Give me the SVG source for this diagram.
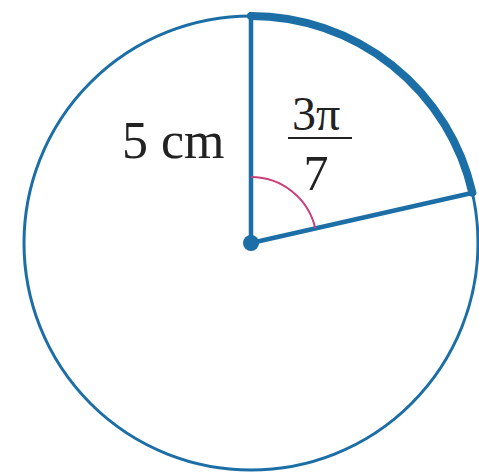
<svg xmlns="http://www.w3.org/2000/svg" width="479" height="476" viewBox="0 0 479 476">
<style>
.blue{stroke:#1b6ea6;fill:none;stroke-linecap:round}
.txt{font-family:"Liberation Serif",serif;fill:#222;}
</style>
<rect width="479" height="476" fill="#fff"/>
<g id="circle">
<circle class="blue" cx="251" cy="243" r="227" stroke-width="3"/>
<path class="blue" d="M251 16 A227 227 0 0 1 472.3 192.5" stroke-width="8" stroke-linecap="butt"/>
</g>
<g id="connectors">
<line class="blue" x1="251" y1="243" x2="251" y2="14" stroke-width="4.5" stroke-linecap="butt"/>
<line class="blue" x1="251" y1="243" x2="474" y2="192.5" stroke-width="4.5" stroke-linecap="butt"/>
<path d="M251 177 A66 66 0 0 1 315.3 228.3" fill="none" stroke="#c8407a" stroke-width="2"/>
</g>
<g id="center"><circle cx="251" cy="243" r="8" fill="#1b6ea6"/></g>
<g id="label-radius"><text class="txt" x="122" y="158" font-size="52">5 cm</text></g>
<g id="label-angle">
<text class="txt" x="316" y="130" font-size="48" text-anchor="middle">3π</text>
<line x1="288" y1="138" x2="352" y2="138" stroke="#222" stroke-width="2"/>
<text class="txt" x="316" y="190" font-size="50" text-anchor="middle">7</text>
</g>
</svg>
